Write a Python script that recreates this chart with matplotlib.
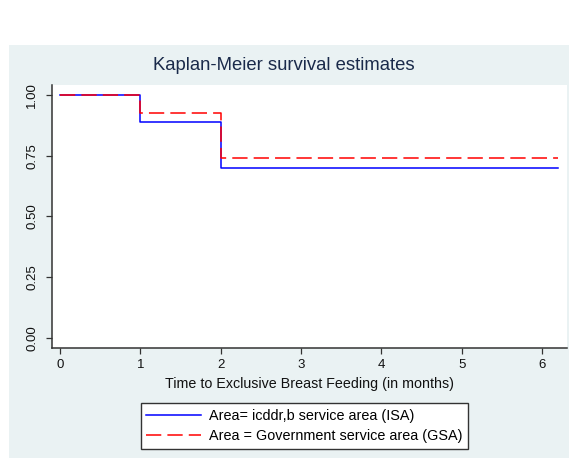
import matplotlib.pyplot as plt
from matplotlib.patches import Rectangle
from matplotlib.lines import Line2D

plt.rcParams['font.family'] = ['Liberation Sans', 'DejaVu Sans']

# Kaplan-Meier step estimates by service area
time_isa = [0, 1, 2, 6.2]
surv_isa = [1.00, 0.889, 0.700, 0.700]
time_gsa = [0, 1, 2, 6.2]
surv_gsa = [1.00, 0.927, 0.742, 0.742]

labels = ["Area= icddr,b service area (ISA)",
          "Area = Government service area (GSA)"]
yticks = [0, 0.25, 0.5, 0.75, 1.0]
xticks = [0, 1, 2, 3, 4, 5, 6]

W, H = 569, 458
fig = plt.figure(figsize=(W / 100, H / 100), dpi=100)
fig.patch.set_facecolor('white')

# light graph region behind everything
fig.patches.append(Rectangle((9 / W, 0), (W - 9) / W, (H - 45) / H,
                             transform=fig.transFigure, facecolor='#EAF2F3',
                             edgecolor='none', zorder=-5))

ax = fig.add_axes([52 / W, (H - 348) / H, (567 - 52) / W, (348 - 85) / H])
ax.set_zorder(2)
ax.set_facecolor('white')

ax.step(time_isa, surv_isa, where='post', color='#0000FF', lw=1.1)
ax.step(time_gsa, surv_gsa, where='post', color='#FF0000', lw=1.1,
        dashes=(10, 4))

ax.set_xlim(-0.1, 6.31)
ax.set_ylim(-0.041, 1.041)
ax.set_xticks(xticks)
ax.set_yticks(yticks)
ax.set_yticklabels([f"{v:.2f}" for v in yticks], rotation=90, va='center')

for s in ['top', 'right']:
    ax.spines[s].set_visible(False)
for s in ['left', 'bottom']:
    ax.spines[s].set_color('#333333')
    ax.spines[s].set_linewidth(1.1)
ax.tick_params(axis='both', length=4, width=0.9, color='#333333',
               labelsize=9.5, labelcolor='#111111')
ax.tick_params(axis='y', pad=6)
ax.tick_params(axis='x', pad=4)

ax.set_xlabel("Time to Exclusive Breast Feeding (in months)", fontsize=10.3,
              color='#111111', labelpad=4)
fig.text(284 / W, (H - 65) / H, "Kaplan-Meier survival estimates",
         ha='center', va='center', fontsize=13.3, color='#1a2a4a', zorder=3)

handles = [Line2D([], [], color='#0000FF', lw=1.1),
           Line2D([], [], color='#FF0000', lw=1.1, dashes=(10, 4))]
leg = ax.legend(handles, labels, loc='center',
                bbox_to_anchor=(304.5 / W, (H - 426) / H),
                bbox_transform=fig.transFigure, fontsize=10.4,
                handlelength=3.8, handletextpad=0.55, borderpad=0.4,
                labelspacing=0.4, borderaxespad=0, fancybox=False,
                framealpha=1, edgecolor='#333333')
leg.get_frame().set_linewidth(1.0)

fig.savefig('out.png', dpi=100)
